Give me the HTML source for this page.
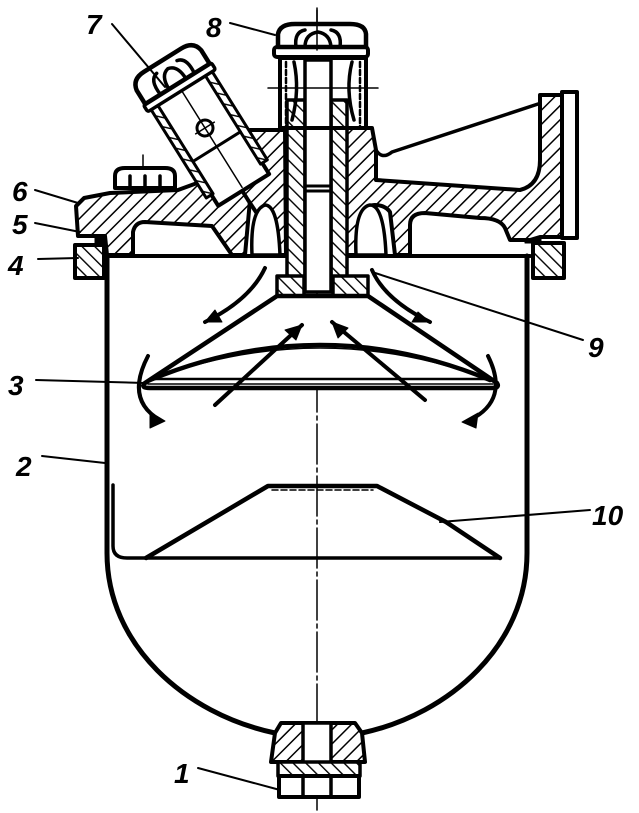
<!DOCTYPE html>
<html><head><meta charset="utf-8"><style>
html,body{margin:0;padding:0;background:#fff}
svg{display:block}
text{font-family:"Liberation Sans",sans-serif;font-style:italic;font-weight:bold;font-size:28px;fill:#000}
</style></head><body>
<svg width="639" height="813" viewBox="0 0 639 813" xmlns="http://www.w3.org/2000/svg">
<defs>
<pattern id="h" patternUnits="userSpaceOnUse" width="10" height="10" patternTransform="rotate(45)">
<rect width="10" height="10" fill="#fff"/><line x1="0" y1="0" x2="0" y2="10" stroke="#000" stroke-width="3"/>
</pattern>
<pattern id="h2" patternUnits="userSpaceOnUse" width="9" height="9" patternTransform="rotate(-45)">
<rect width="9" height="9" fill="#fff"/><line x1="0" y1="0" x2="0" y2="9" stroke="#000" stroke-width="2.8"/>
</pattern>
</defs>
<g stroke="#000" fill="none" stroke-linejoin="round" stroke-linecap="round">
<line x1="317" y1="8" x2="317" y2="810" stroke-width="1.5" stroke-dasharray="40 4 4 4"/>

<path d="M107,256 L107,553 C107,645 185,714 275,733" stroke-width="5"/>
<path d="M527,256 L527,553 C527,645 450,714 362,733" stroke-width="5"/>
<line x1="105" y1="256" x2="530" y2="256" stroke-width="4"/>
<path d="M113,485 L113,546 Q113,558 127,558 L500,558 L446,522" stroke-width="3.5"/>
<path d="M146,558 L268,486 L377,486 L446,522 L500,558" stroke-width="4.5"/>
<line x1="272" y1="490" x2="373" y2="490" stroke-width="1.5" stroke-dasharray="6 3"/>

<rect x="75" y="245" width="29" height="33" fill="url(#h2)" stroke-width="4"/>
<rect x="533" y="243" width="31" height="35" fill="url(#h2)" stroke-width="4"/>
<rect x="95" y="233" width="16" height="10" fill="#000" stroke-width="1"/>
<rect x="525" y="233" width="16" height="10" fill="#000" stroke-width="1"/>

<path d="M76,206 L84,198 L110,193 L178,190 L200,182 L228,168 L250,200 L245,255 L232,255 L212,226 L145,222 Q135,222 133,232 L133,255 L107,255 L105,236 L78,236 Z" fill="url(#h)" stroke-width="4"/>
<path d="M250,130 L285,130 L286,255 L262,255 L258,215 L248,200 L228,168 Z" fill="url(#h)" stroke-width="4"/>
<path d="M252,255 Q250,210 265,205 Q278,205 280,255 Z" fill="#fff" stroke-width="3.5"/>
<path d="M345,128 L372,128 L376,150 L376,180 L520,190 Q540,185 540,160 L540,95 L562,95 L562,237 L540,237 L530,240 L510,240 L505,228 Q500,218 480,218 L425,213 Q410,213 410,225 L410,255 L395,255 L390,212 Q385,205 375,205 Q362,205 360,230 L358,255 L345,255 Z" fill="url(#h)" stroke-width="4"/>
<path d="M356,255 Q354,208 370,205 Q384,205 386,255 Z" fill="#fff" stroke-width="3.5"/>
<rect x="562" y="92" width="15" height="146" fill="#fff" stroke-width="4"/>
<path d="M376,150 Q382,160 392,152 L538,104" stroke-width="3.5"/>

<rect x="287" y="100" width="18" height="190" fill="url(#h2)" stroke-width="3.5"/>
<rect x="331" y="100" width="16" height="190" fill="url(#h2)" stroke-width="3.5"/>
<rect x="305" y="60" width="26" height="232" fill="#fff" stroke-width="3.5"/>
<line x1="305" y1="186" x2="331" y2="186" stroke-width="3"/>
<line x1="305" y1="191" x2="331" y2="191" stroke-width="3"/>
<rect x="280" y="58" width="86" height="70" fill="none" stroke-width="4"/>
<path d="M286,62 L286,128 M360,62 L360,128" stroke-width="2.5" stroke-dasharray="5 3"/>
<path d="M294,62 Q300,90 292,120 M352,62 Q345,90 354,120" stroke-width="3.5"/>
<line x1="268" y1="88" x2="378" y2="88" stroke-width="1.5"/>
<rect x="274" y="47" width="94" height="10" rx="3" fill="#fff" stroke-width="4"/>
<path d="M278,47 L278,34 Q280,24 295,24 L350,24 Q365,24 366,34 L366,47 Z" fill="#fff" stroke-width="4.5"/>
<path d="M296,47 Q294,32 305,30 M340,47 Q342,32 331,30 M305,47 Q305,34 318,32 Q330,34 331,47" stroke-width="3.5"/>
<line x1="317" y1="10" x2="317" y2="50" stroke-width="1.5"/>

<rect x="277" y="276" width="27" height="20" fill="url(#h2)" stroke-width="3.5"/>
<rect x="333" y="276" width="35" height="20" fill="url(#h2)" stroke-width="3.5"/>

<g transform="translate(205,128) rotate(-32)">
<rect x="-30" y="-45" width="60" height="118" fill="#fff" stroke-width="4"/>
<rect x="-36" y="-45" width="8" height="105" fill="url(#h2)" stroke-width="3"/>
<rect x="28" y="-45" width="8" height="105" fill="url(#h2)" stroke-width="3"/>
<line x1="-28" y1="22" x2="28" y2="22" stroke-width="3"/>
<line x1="0" y1="-45" x2="0" y2="70" stroke-width="1.5"/>
<circle cx="0" cy="0" r="8" stroke-width="3"/>
<line x1="-11" y1="0" x2="11" y2="0" stroke-width="1.5"/>
<rect x="-40" y="-52" width="80" height="8" rx="2" fill="#fff" stroke-width="3.5"/>
<path d="M-38,-52 L-38,-68 Q-36,-80 -22,-80 L22,-80 Q36,-80 38,-68 L38,-52 Z" fill="#fff" stroke-width="4.5"/>
<path d="M-20,-52 Q-22,-70 -12,-72 M20,-52 Q22,-70 12,-72 M-10,-52 Q-10,-68 0,-70 Q10,-68 10,-52" stroke-width="3.5"/>
</g>
<path d="M115,188 L115,176 Q115,168 125,168 L165,168 Q175,168 175,176 L175,188 Z" fill="#fff" stroke-width="4"/>
<path d="M130,188 L130,176 M145,188 L145,176 M160,188 L160,176" stroke-width="3.5"/>
<line x1="143" y1="155" x2="143" y2="168" stroke-width="1.5"/>

<path d="M277,296 L368,296 L497,383 Q500,388 492,388 L150,388 Q140,388 145,383 Z" fill="#fff" stroke-width="4.5"/>
<path d="M150,380 Q320,310 490,380" stroke-width="4.5"/>
<path d="M155,378 Q320,318 485,378" stroke-width="1.5"/>
<line x1="152" y1="379" x2="490" y2="379" stroke-width="2.5"/>
<line x1="148" y1="384" x2="493" y2="384" stroke-width="1.5"/>

<g stroke-width="4">
<path d="M215,405 L302,325"/><path d="M425,400 L332,322"/>
<path d="M265,268 Q250,300 205,322"/><path d="M372,270 Q385,300 430,322"/>
<path d="M148,356 Q125,400 160,420"/><path d="M488,356 Q510,400 470,420"/>
</g>
<g fill="#000" stroke-width="1">
<path d="M302,325 L285,330 L296,340 Z"/>
<path d="M332,322 L338,338 L348,328 Z"/>
<path d="M205,322 L215,310 L222,322 Z"/>
<path d="M430,322 L418,312 L412,322 Z"/>
<path d="M165,421 L150,412 L150,428 Z"/>
<path d="M462,422 L478,413 L476,428 Z"/>
</g>

<path d="M275,733 L281,723 L355,723 L362,733 L365,762 L271,762 Z" fill="url(#h)" stroke-width="4"/>
<rect x="303" y="723" width="28" height="52" fill="#fff" stroke-width="3.5"/>
<rect x="278" y="762" width="82" height="14" fill="url(#h2)" stroke-width="3.5"/>
<rect x="279" y="776" width="80" height="21" fill="#fff" stroke-width="4"/>
<path d="M303,776 L303,797 M331,776 L331,797" stroke-width="3.5"/>

<g stroke-width="2">
<line x1="112" y1="24" x2="165" y2="87"/>
<line x1="230" y1="23" x2="275" y2="35"/>
<line x1="35" y1="190" x2="78" y2="203"/>
<line x1="35" y1="223" x2="80" y2="232"/>
<line x1="38" y1="259" x2="78" y2="258"/>
<line x1="36" y1="380" x2="145" y2="383"/>
<line x1="42" y1="456" x2="105" y2="463"/>
<line x1="372" y1="272" x2="583" y2="340"/>
<line x1="440" y1="522" x2="590" y2="510"/>
<line x1="198" y1="768" x2="280" y2="790"/>
</g>
</g>
<text x="86" y="34">7</text>
<text x="206" y="37">8</text>
<text x="12" y="201">6</text>
<text x="12" y="234">5</text>
<text x="8" y="275">4</text>
<text x="8" y="395">3</text>
<text x="16" y="476">2</text>
<text x="588" y="357">9</text>
<text x="592" y="525">10</text>
<text x="174" y="783">1</text>
</svg>
</body></html>
